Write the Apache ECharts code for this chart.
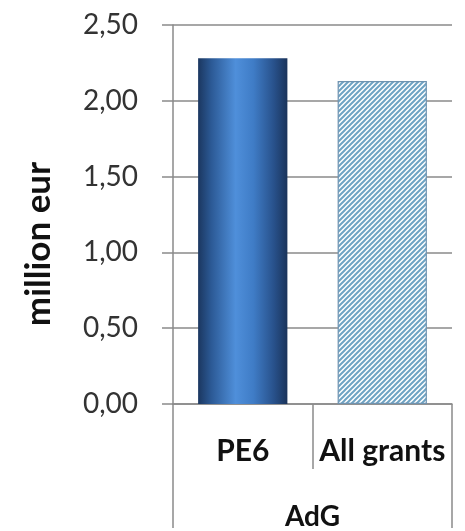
<!DOCTYPE html>
<html>
<head>
<meta charset="utf-8">
<script src="https://cdn.jsdelivr.net/npm/echarts@6/dist/echarts.min.js"></script>
<style>
  html, body { margin: 0; padding: 0; background: #ffffff; }
  #chart { width: 465px; height: 531px; }
</style>
</head>
<body>
<div id="chart"></div>
<script>
// Average grant size, million eur
const categories = ['PE6', 'All grants'];
const groupLabels = ['AdG'];
const values = [2.28, 2.13];
const yMin = 0;
const yMax = 2.5;
const yStep = 0.5;

// Diagonal hatch fill for the second bar
function hatchPattern() {
  const size = 5;
  const c = document.createElement('canvas');
  c.width = size; c.height = size;
  const ctx = c.getContext('2d');
  ctx.fillStyle = '#ffffff';
  ctx.fillRect(0, 0, size, size);
  ctx.strokeStyle = '#6ea3c4';
  ctx.lineWidth = 2;
  ctx.beginPath();
  ctx.moveTo(-1, size + 1); ctx.lineTo(size + 1, -1);
  ctx.moveTo(-1, 1); ctx.lineTo(1, -1);
  ctx.moveTo(size - 1, size + 1); ctx.lineTo(size + 1, size - 1);
  ctx.stroke();
  return c;
}

const cylinder = {
  type: 'linear', x: 0, y: 0, x2: 1, y2: 0,
  colorStops: [
    { offset: 0, color: '#1b3760' },
    { offset: 0.15, color: '#2c5a96' },
    { offset: 0.42, color: '#4f8fda' },
    { offset: 0.62, color: '#3f7cc6' },
    { offset: 0.85, color: '#28518b' },
    { offset: 1, color: '#1a335a' }
  ]
};

const barStyles = [
  { color: cylinder },
  { color: { image: hatchPattern(), repeat: 'repeat' }, borderColor: '#6f93b0', borderWidth: 1.2 }
];

const axisGray = '#8a8a8a';
const chart = echarts.init(document.getElementById('chart'), null, { renderer: 'canvas' });

chart.setOption({
  animation: false,
  backgroundColor: '#ffffff',
  grid: { left: 173, right: 13, top: 25, bottom: 124 },
  xAxis: [
    {
      type: 'category',
      data: categories,
      boundaryGap: true,
      axisLine: { show: true, lineStyle: { color: axisGray, width: 1.5 } },
      axisTick: { show: true, alignWithLabel: false, length: 65, lineStyle: { color: axisGray, width: 1.5 } },
      axisLabel: {
        interval: 0,
        hideOverlap: false,
        margin: 32,
        fontFamily: 'Lato',
        fontWeight: 'bold',
        fontSize: 30,
        color: '#111111'
      }
    },
    {
      type: 'category',
      data: groupLabels,
      position: 'bottom',
      boundaryGap: true,
      axisLine: { show: false },
      axisTick: { show: true, length: 124, lineStyle: { color: axisGray, width: 1.5 } },
      axisLabel: {
        interval: 0,
        margin: 99,
        fontFamily: 'Lato',
        fontWeight: 'bold',
        fontSize: 28,
        color: '#111111'
      }
    }
  ],
  yAxis: {
    type: 'value',
    min: yMin,
    max: yMax,
    interval: yStep,
    axisLine: { show: true, lineStyle: { color: axisGray, width: 1.5 } },
    axisTick: { show: true, inside: false, length: 11, lineStyle: { color: axisGray, width: 1.5 } },
    splitLine: { show: true, lineStyle: { color: axisGray, width: 1.5 } },
    axisLabel: {
      margin: 35,
      fontFamily: 'Lato',
      fontSize: 28,
      color: '#333333',
      formatter: v => v.toFixed(2).replace('.', ',')
    }
  },
  graphic: [
    {
      type: 'text',
      x: 39,
      y: 244,
      rotation: Math.PI / 2,
      style: {
        text: 'million eur',
        fontFamily: 'Lato',
        fontWeight: 'bold',
        fontSize: 35,
        fill: '#111111',
        align: 'center',
        verticalAlign: 'middle'
      }
    }
  ],
  series: [
    {
      type: 'bar',
      xAxisIndex: 0,
      barWidth: '64%',
      data: values.map((v, i) => ({ value: v, itemStyle: barStyles[i] }))
    }
  ]
});
</script>
</body>
</html>
